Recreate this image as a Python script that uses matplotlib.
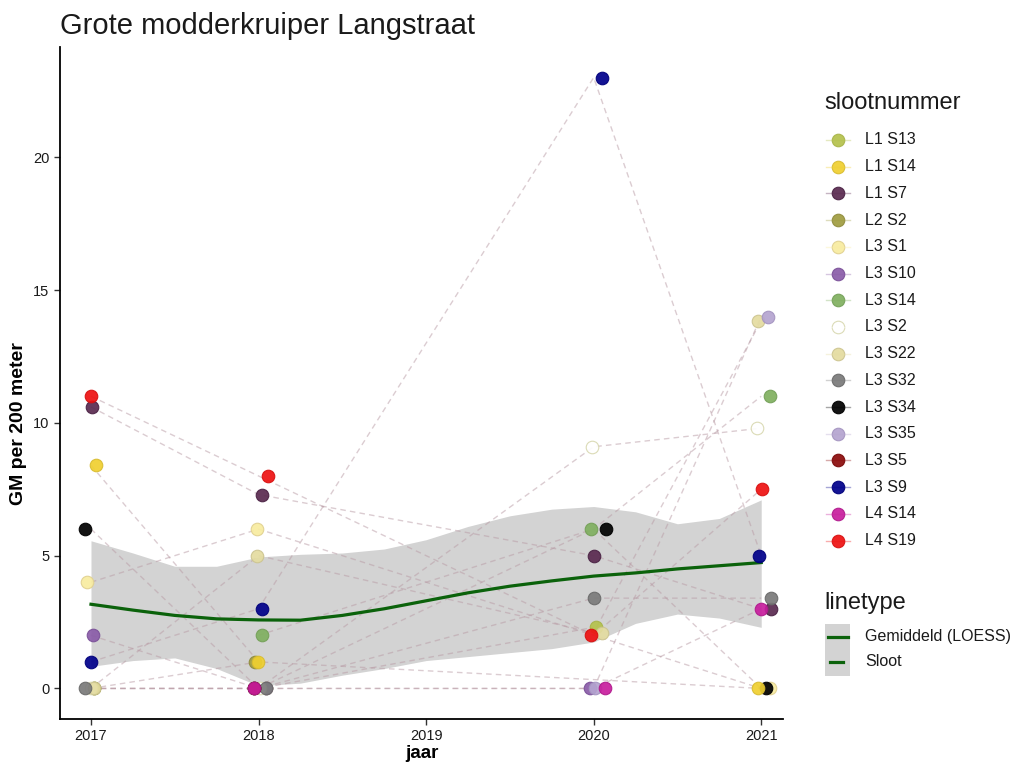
import numpy as np
import matplotlib
matplotlib.use('Agg')
import matplotlib.pyplot as plt
from matplotlib.patches import Rectangle

plt.rcParams['font.family'] = ['Liberation Sans', 'DejaVu Sans']

nan = np.nan
years = [2017, 2018, 2020, 2021]
sloten = ['L1 S13', 'L1 S14', 'L1 S7', 'L2 S2', 'L3 S1', 'L3 S10', 'L3 S14', 'L3 S2',
          'L3 S22', 'L3 S32', 'L3 S34', 'L3 S35', 'L3 S5', 'L3 S9', 'L4 S14', 'L4 S19']
kleuren = ['#b4c24c', '#f0d030', '#5a2a50', '#a09c40', '#f8eca0', '#8a5ca8', '#80b060', '#ffffff',
           '#e4dca0', '#7a7a7a', '#000000', '#b4a4d0', '#8b0a0a', '#00008b', '#c81e9e', '#ee1111']
randen = ['#a8b448', '#d8bc30', '#4a2244', '#908c3c', '#e0d090', '#7a5098', '#74a058', '#d8d8b0',
          '#ccc490', '#6a6a6a', '#000000', '#a494c0', '#7a0808', '#00007a', '#b01a8c', '#d81010']

# GM per 200 meter per sloot, per jaar (2017, 2018, 2020, 2021); nan = niet bemonsterd
gm = [
    [0, 0, 2.3, nan],      # L1 S13
    [8.4, 1, nan, 0],      # L1 S14
    [10.6, 7.3, 5, 3],     # L1 S7
    [0, 1, nan, nan],      # L2 S2
    [4, 6, nan, 0],        # L3 S1
    [2, 0, 0, nan],        # L3 S10
    [nan, 2, 6, 11],       # L3 S14
    [0, 0, 9.1, 9.8],      # L3 S2
    [0, 5, 2.1, 13.85],    # L3 S22
    [0, 0, 3.4, 3.4],      # L3 S32
    [6, 0, 6, 0],          # L3 S34
    [nan, nan, 0, 14],     # L3 S35
    [nan, 0, nan, nan],    # L3 S5
    [1, 3, 23, 5],         # L3 S9
    [nan, 0, 0, 3],        # L4 S14
    [11, 8, 2, 7.5],       # L4 S19
]

# horizontale jitter van de punten (jaren)
jitter = [
    [0.02, 0.046, 0.012, 0.0],
    [0.03, -0.006, 0.0, -0.018],
    [0.004, 0.022, 0.0, 0.06],
    [0.02, -0.02, 0.0, 0.0],
    [-0.025, -0.008, 0.0, 0.054],
    [0.01, 0.046, -0.02, 0.0],
    [0.0, 0.022, -0.018, 0.054],
    [0.0, 0.01, -0.012, -0.024],
    [0.02, -0.008, 0.048, -0.018],
    [-0.035, 0.046, 0.0, 0.06],
    [-0.036, -0.03, 0.072, 0.03],
    [0.0, 0.0, 0.01, 0.042],
    [0.0, -0.03, 0.0, 0.0],
    [0.0, 0.022, 0.048, -0.012],
    [0.0, -0.03, 0.066, 0.0],
    [0.0, 0.058, -0.018, 0.006],
]

# tekenvolgorde van de punten
volgorde = [0, 2, 3, 4, 5, 6, 7, 8, 9, 10, 11, 12, 13, 14, 15, 1]

# LOESS gemiddelde met betrouwbaarheidsband
loess_x = [2017.0, 2017.25, 2017.5, 2017.75, 2018.0, 2018.25, 2018.5, 2018.75, 2019.0,
           2019.25, 2019.5, 2019.75, 2020.0, 2020.25, 2020.5, 2020.75, 2021.0]
loess_fit = [3.17, 2.95, 2.75, 2.62, 2.58, 2.57, 2.75, 3.0, 3.3,
             3.6, 3.85, 4.05, 4.23, 4.35, 4.5, 4.62, 4.74]
loess_lo = [0.83, 1.05, 1.15, 0.75, 0.1, 0.2, 0.5, 0.75, 1.05,
            1.2, 1.35, 1.5, 1.75, 2.45, 2.8, 2.65, 2.3]
loess_hi = [5.56, 5.1, 4.6, 4.6, 4.95, 5.05, 5.1, 5.25, 5.6,
            6.1, 6.5, 6.75, 6.85, 6.65, 6.2, 6.4, 7.1]

W, H = 1014, 766
fig = plt.figure(figsize=(W / 100, H / 100), dpi=100)
ax = fig.add_axes([60 / W, 1 - 719 / H, (783 - 60) / W, (719 - 47) / H])

ax.fill_between(loess_x, loess_lo, loess_hi, color='#d3d3d3', lw=0, zorder=1)

for i in range(len(sloten)):
    y = np.array(gm[i], dtype=float)
    ok = ~np.isnan(y)
    ax.plot(np.array(years)[ok], y[ok], ls=(0, (4, 3)), color='#b89aa4', alpha=0.5,
            lw=1.0, zorder=2)

ax.plot(loess_x, loess_fit, color='#0b620b', lw=2.3, zorder=3)

for i in volgorde:
    xs = np.array(years) + np.array(jitter[i])
    ax.scatter(xs, gm[i], s=82, c=kleuren[i], edgecolors=randen[i], linewidths=0.8,
               alpha=0.92, zorder=4)

ax.set_xlim(2016.815, 2021.13)
ax.set_ylim(-1.15, 24.15)
ax.set_xticks([2017, 2018, 2019, 2020, 2021])
ax.set_yticks([0, 5, 10, 15, 20])
for s in ['top', 'right']:
    ax.spines[s].set_visible(False)
for s in ['left', 'bottom']:
    ax.spines[s].set_linewidth(1.3)
ax.tick_params(labelsize=10.5, length=4, width=1, colors='#333333', labelcolor='#1a1a1a')
ax.set_xlabel('jaar', fontsize=13.5, fontweight='bold', labelpad=1)
ax.set_ylabel('GM per 200 meter', fontsize=14, fontweight='bold')
ax.yaxis.set_label_coords(-0.045, 0.44)

fig.text(60 / W, 1 - 26 / H, 'Grote modderkruiper Langstraat', fontsize=21,
         va='center', ha='left', color='#1a1a1a')

# legenda's rechts van het paneel
lax = fig.add_axes([0, 0, 1, 1])
lax.set_xlim(0, W)
lax.set_ylim(H, 0)
lax.axis('off')

lax.text(824, 103, 'slootnummer', fontsize=17, va='center', ha='left', color='#1a1a1a')
for i, naam in enumerate(sloten):
    yy = 140 + i * 26.7
    lax.plot([826, 850], [yy, yy], color=kleuren[i], lw=1, alpha=0.35)
    lax.scatter([838], [yy], s=82, c=kleuren[i], edgecolors=randen[i], linewidths=0.8,
                alpha=0.92)
    lax.text(865, yy, naam, fontsize=11.5, va='center', ha='left', color='#1a1a1a')

lax.text(824, 603, 'linetype', fontsize=17, va='center', ha='left', color='#1a1a1a')
lax.add_patch(Rectangle((825, 624), 25, 52, color='#d3d3d3', lw=0))
lax.plot([828, 848], [637, 637], color='#0b620b', lw=2.3)
lax.plot([830, 843], [662, 662], color='#0b620b', lw=2.3)
lax.text(865, 637, 'Gemiddeld (LOESS)', fontsize=11.5, va='center', ha='left', color='#1a1a1a')
lax.text(865, 662, 'Sloot', fontsize=11.5, va='center', ha='left', color='#1a1a1a')

fig.savefig('out.png', dpi=100)
